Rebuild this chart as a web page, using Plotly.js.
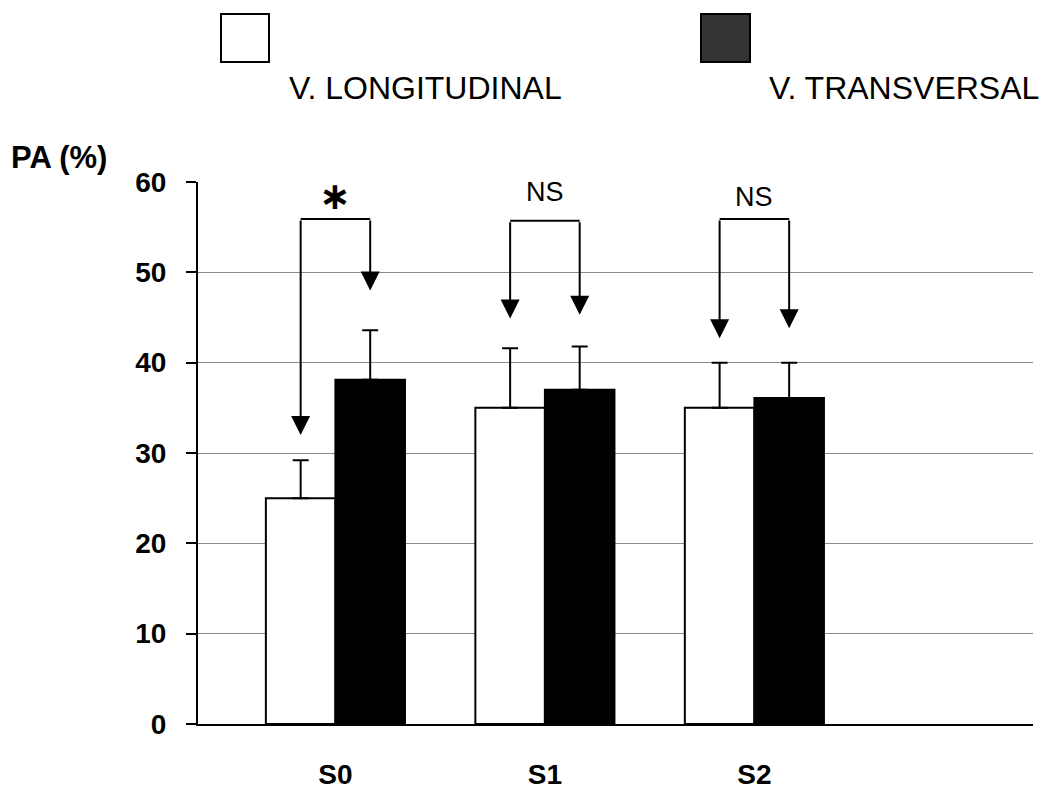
<!DOCTYPE html>
<html>
<head>
<meta charset="utf-8">
<script src="https://cdn.plot.ly/plotly-3.0.1.min.js"></script>
<style>html,body{margin:0;padding:0;background:#fff;}#chart{width:1043px;height:791px;}</style>
</head>
<body>
<div id="chart"></div>
<script>
// ---- data ----
const categories = ['S0', 'S1', 'S2'];
const seriesNames = ['V. LONGITUDINAL', 'V. TRANSVERSAL'];
const longitudinal = [25.0, 35.0, 35.0];
const transversal = [38.1, 37.0, 36.1];
const errLongitudinal = [4.2, 6.6, 5.0];
const errTransversal = [5.5, 4.8, 3.9];
const signifLabels = ['∗', 'NS', 'NS'];
const bracketY = [55.9, 55.7, 55.9];
const arrowTipLong = [32.0, 44.9, 42.7];
const arrowTipTrans = [48.0, 45.3, 43.8];
const yTicks = [0, 10, 20, 30, 40, 50, 60];

const xPos = categories.map((c, i) => i);
const off = 0.166;

const traces = [
  {
    type: 'bar', name: seriesNames[0], x: xPos, y: longitudinal,
    marker: {color: '#ffffff', line: {color: '#000000', width: 2}},
    error_y: {type: 'data', array: errLongitudinal, symmetric: false, arrayminus: [0,0,0], color: '#000000', thickness: 2, width: 8}
  },
  {
    type: 'bar', name: seriesNames[1], x: xPos, y: transversal,
    marker: {color: '#000000', line: {color: '#000000', width: 2}},
    error_y: {type: 'data', array: errTransversal, symmetric: false, arrayminus: [0,0,0], color: '#000000', thickness: 2, width: 8}
  }
];

const shapes = [];
const annotations = [];
categories.forEach((c, i) => {
  shapes.push({type: 'line', xref: 'x', yref: 'y', x0: i - off, x1: i + off, y0: bracketY[i], y1: bracketY[i], line: {color: '#000', width: 2}});
  annotations.push({xref: 'x', yref: 'y', axref: 'x', ayref: 'y', x: i - off, y: arrowTipLong[i], ax: i - off, ay: bracketY[i], text: '', showarrow: true, arrowhead: 2, arrowsize: 1.9, arrowwidth: 2, arrowcolor: '#000', standoff: 0});
  annotations.push({xref: 'x', yref: 'y', axref: 'x', ayref: 'y', x: i + off, y: arrowTipTrans[i], ax: i + off, ay: bracketY[i], text: '', showarrow: true, arrowhead: 2, arrowsize: 1.9, arrowwidth: 2, arrowcolor: '#000', standoff: 0});
  const isStar = signifLabels[i] === '∗';
  annotations.push({xref: 'x', yref: 'y', x: i, y: isStar ? 58.4 : (i === 1 ? 58.9 : 58.3), text: signifLabels[i], showarrow: false,
    font: isStar ? {family: 'DejaVu Sans', size: 38, color: '#000', weight: 'bold'} : {family: 'Liberation Sans, Arial', size: 27, color: '#000'}});
});

// legend (custom)
shapes.push({type: 'rect', xref: 'paper', yref: 'paper', x0: (221-198)/835, x1: (269-198)/835, y0: (724-62)/542, y1: (724-14)/542, fillcolor: '#ffffff', line: {color: '#000', width: 2}});
shapes.push({type: 'rect', xref: 'paper', yref: 'paper', x0: (701-198)/835, x1: (750-198)/835, y0: (724-62)/542, y1: (724-14)/542, fillcolor: '#333333', line: {color: '#000', width: 2}});
annotations.push({xref: 'paper', yref: 'paper', x: (287-198)/835, y: (724-88)/542, xanchor: 'left', yanchor: 'middle', text: seriesNames[0], showarrow: false, font: {family: 'Liberation Sans, Arial', size: 32, color: '#000'}});
annotations.push({xref: 'paper', yref: 'paper', x: (767-198)/835, y: (724-88)/542, xanchor: 'left', yanchor: 'middle', text: seriesNames[1], showarrow: false, font: {family: 'Liberation Sans, Arial', size: 32, color: '#000'}});
// y label
annotations.push({xref: 'paper', yref: 'paper', x: (9-198)/835, y: (724-157)/542, xanchor: 'left', yanchor: 'middle', text: 'PA (%)', showarrow: false, font: {family: 'Liberation Sans, Arial', size: 31, color: '#000', weight: 'bold'}});

const layout = {
  width: 1043, height: 791,
  margin: {l: 198, r: 10, t: 182, b: 67},
  paper_bgcolor: '#ffffff', plot_bgcolor: '#ffffff',
  showlegend: false,
  barmode: 'group', bargap: 0.336, bargroupgap: 0,
  xaxis: {
    range: [-0.656, 3.33], tickvals: xPos, ticktext: categories,
    showgrid: false, zeroline: false, ticks: '', showline: true, linecolor: '#000', linewidth: 2,
    tickfont: {family: 'Liberation Sans, Arial', size: 28, color: '#000', weight: 'bold'},
    ticklabelstandoff: 24
  },
  yaxis: {
    range: [0, 60], tickvals: yTicks, ticks: 'outside', ticklen: 10, tickwidth: 2, tickcolor: '#000',
    showline: true, linecolor: '#000', linewidth: 2,
    showgrid: true, gridcolor: '#8a8a8a', gridwidth: 1, zeroline: false,
    tickfont: {family: 'Liberation Sans, Arial', size: 28, color: '#000', weight: 'bold'},
    ticklabelstandoff: 14
  },
  shapes: shapes,
  annotations: annotations
};

Plotly.newPlot('chart', traces, layout, {displayModeBar: false, staticPlot: true});
</script>
</body>
</html>
